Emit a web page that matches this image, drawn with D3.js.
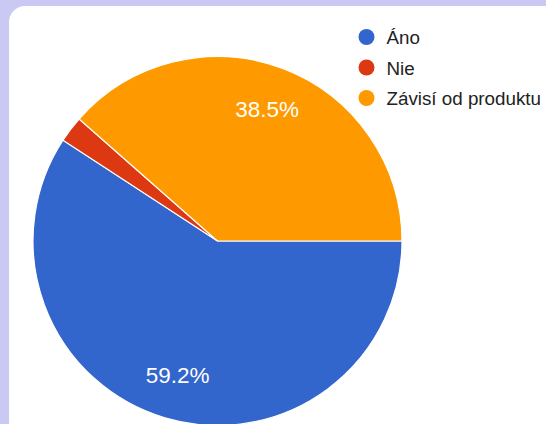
<!DOCTYPE html>
<html>
<head>
<meta charset="utf-8">
<script src="https://cdn.jsdelivr.net/npm/d3@7"></script>
<style>
  body { margin: 0; background: #c9c9f3; }
  svg { display: block; }
</style>
</head>
<body>
<div id="vis"></div>
<script>
const width = 546;
const height = 424;

const categories = ["Áno", "Nie", "Závisí od produktu"];
const values = [59.2, 2.3, 38.5];
const colors = ["#3366cc", "#dc3912", "#ff9900"];

const cx = 217.5, cy = 241, radius = 184.5;

const svg = d3.select("#vis")
    .append("svg")
    .attr("width", width)
    .attr("height", height);

// white card
svg.append("rect")
    .attr("x", 9)
    .attr("y", 6)
    .attr("width", 560)
    .attr("height", 460)
    .attr("rx", 16)
    .attr("fill", "#fff");

const data = categories.map((c, i) => ({name: c, value: values[i], color: colors[i]}));

// start at 3 o'clock, clockwise, like the original
const pie = d3.pie()
    .value(d => d.value)
    .sort(null)
    .startAngle(Math.PI / 2)
    .endAngle(Math.PI / 2 + 2 * Math.PI);

const arc = d3.arc().innerRadius(0).outerRadius(radius);
const labelArc = d3.arc().innerRadius(radius * 0.76).outerRadius(radius * 0.76);

const g = svg.append("g").attr("transform", `translate(${cx},${cy})`);

const arcs = pie(data);

g.selectAll("path")
    .data(arcs)
    .join("path")
    .attr("d", arc)
    .attr("fill", d => d.data.color)
    .attr("stroke", "#fff")
    .attr("stroke-width", 1.2);

g.selectAll("text")
    .data(arcs.filter(d => d.data.value > 5))
    .join("text")
    .attr("transform", d => `translate(${labelArc.centroid(d)})`)
    .attr("text-anchor", "middle")
    .attr("dominant-baseline", "central")
    .attr("fill", "#fff")
    .attr("font-family", "Liberation Sans, Arial, sans-serif")
    .attr("font-size", 22.5)
    .text(d => d.data.value.toFixed(1) + "%");

// legend
const legend = svg.append("g").attr("transform", "translate(366.5,37)");
const item = legend.selectAll("g")
    .data(data)
    .join("g")
    .attr("transform", (d, i) => `translate(0,${i * 30.5})`);

item.append("circle")
    .attr("r", 8)
    .attr("fill", d => d.color);

item.append("text")
    .attr("x", 20)
    .attr("y", 0.5)
    .attr("dominant-baseline", "central")
    .attr("fill", "#222")
    .attr("font-family", "Liberation Sans, Arial, sans-serif")
    .attr("font-size", 18.8)
    .text(d => d.name);
</script>
</body>
</html>
